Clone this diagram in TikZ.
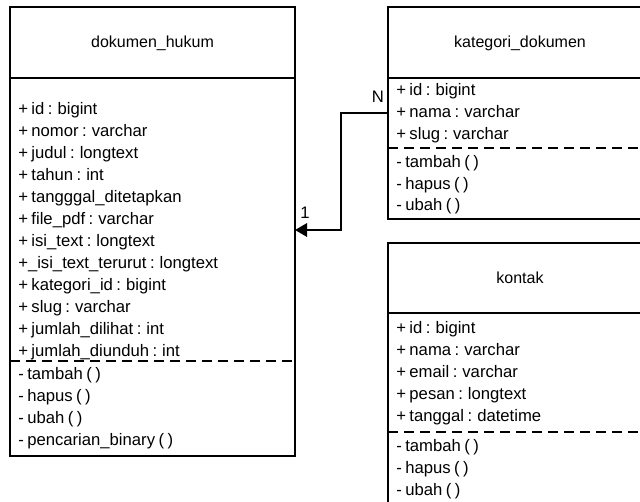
\documentclass[tikz,border=0pt]{standalone}
\usepackage{fontspec}
\setmainfont{Liberation Sans}[WordSpace=0.75]
\usetikzlibrary{arrows.meta}

\tikzset{
  classbox/.style={draw, line width=1.6pt, anchor=north west, inner sep=0pt, outer sep=0pt},
  classname/.style={anchor=base, inner sep=0pt, font=\fontsize{12}{14}\selectfont},
  member/.style={anchor=base west, inner sep=0pt, font=\fontsize{12.5}{14}\selectfont},
  divider/.style={line width=1.6pt},
  opdivider/.style={line width=1.5pt, dash pattern=on 7.5pt off 4.5pt},
  link/.style={line width=1.5pt, -{Triangle[length=9pt,width=10pt]}}
}

\begin{document}
\begin{tikzpicture}[x=0.75pt, y=-0.75pt]
\clip (0,0) rectangle (640,502);

% Class boxes
\node[classbox, minimum width=213.75pt, minimum height=336.75pt] (dokumen) at (10,7) {};
\node[classbox, minimum width=204pt, minimum height=159pt] (kategori) at (388,7) {};
\node[classbox, minimum width=204pt, minimum height=215.25pt] (kontak) at (388,243) {};

% Dividers
\draw[divider] (dokumen.west |- 0,78) -- (dokumen.east |- 0,78);
\draw[opdivider] (dokumen.west |- 0,361) -- (dokumen.east |- 0,361);
\draw[divider] (kategori.west |- 0,78) -- (kategori.east |- 0,78);
\draw[opdivider] (kategori.west |- 0,148) -- (kategori.east |- 0,148);
\draw[divider] (kontak.west |- 0,313) -- (kontak.east |- 0,313);
\draw[opdivider] (kontak.west |- 0,432) -- (kontak.east |- 0,432);

% Class names
\node[classname] (dokumen-name) at (152.5,48) {dokumen\_hukum};
\node[classname] (kategori-name) at (520,48) {kategori\_dokumen};
\node[classname] (kontak-name) at (520,284) {kontak};

% dokumen_hukum members
\foreach \txt [count=\i from 0] in {+ id : bigint, + nomor : varchar, + judul : longtext,
    + tahun : int, + tangggal\_ditetapkan, + file\_pdf : varchar, + isi\_text : longtext,
    +\_isi\_text\_terurut : longtext, + kategori\_id : bigint, + slug : varchar,
    + jumlah\_dilihat : int, + jumlah\_diunduh : int}
  \node[member] (dh-a\i) at (18,115+22*\i) {\txt};
\foreach \txt [count=\i from 0] in {- tambah ( ), - hapus ( ), - ubah ( ), - pencarian\_binary ( )}
  \node[member] (dh-m\i) at (18,380+22*\i) {\txt};

% kategori_dokumen members
\foreach \txt [count=\i from 0] in {+ id : bigint, + nama : varchar, + slug : varchar}
  \node[member] (kd-a\i) at (396,96+22*\i) {\txt};
\foreach \txt [count=\i from 0] in {- tambah ( ), - hapus ( ), - ubah ( )}
  \node[member] (kd-m\i) at (396,168+21.5*\i) {\txt};

% kontak members
\foreach \txt [count=\i from 0] in {+ id : bigint, + nama : varchar, + email : varchar,
    + pesan : longtext, + tanggal : datetime}
  \node[member] (kt-a\i) at (396,334+22*\i) {\txt};
\foreach \txt [count=\i from 0] in {- tambah ( ), - hapus ( ), - ubah ( )}
  \node[member] (kt-m\i) at (396,452+22*\i) {\txt};

% Relation
\coordinate (bend) at (341,113);
\draw[link] (kategori.west |- bend) -- (bend) |- (dokumen.east |- 0,230);
\node[member, anchor=center] (many) at (378,97) {N};
\node[member, anchor=center] (one) at (305,213) {1};
\end{tikzpicture}
\end{document}
